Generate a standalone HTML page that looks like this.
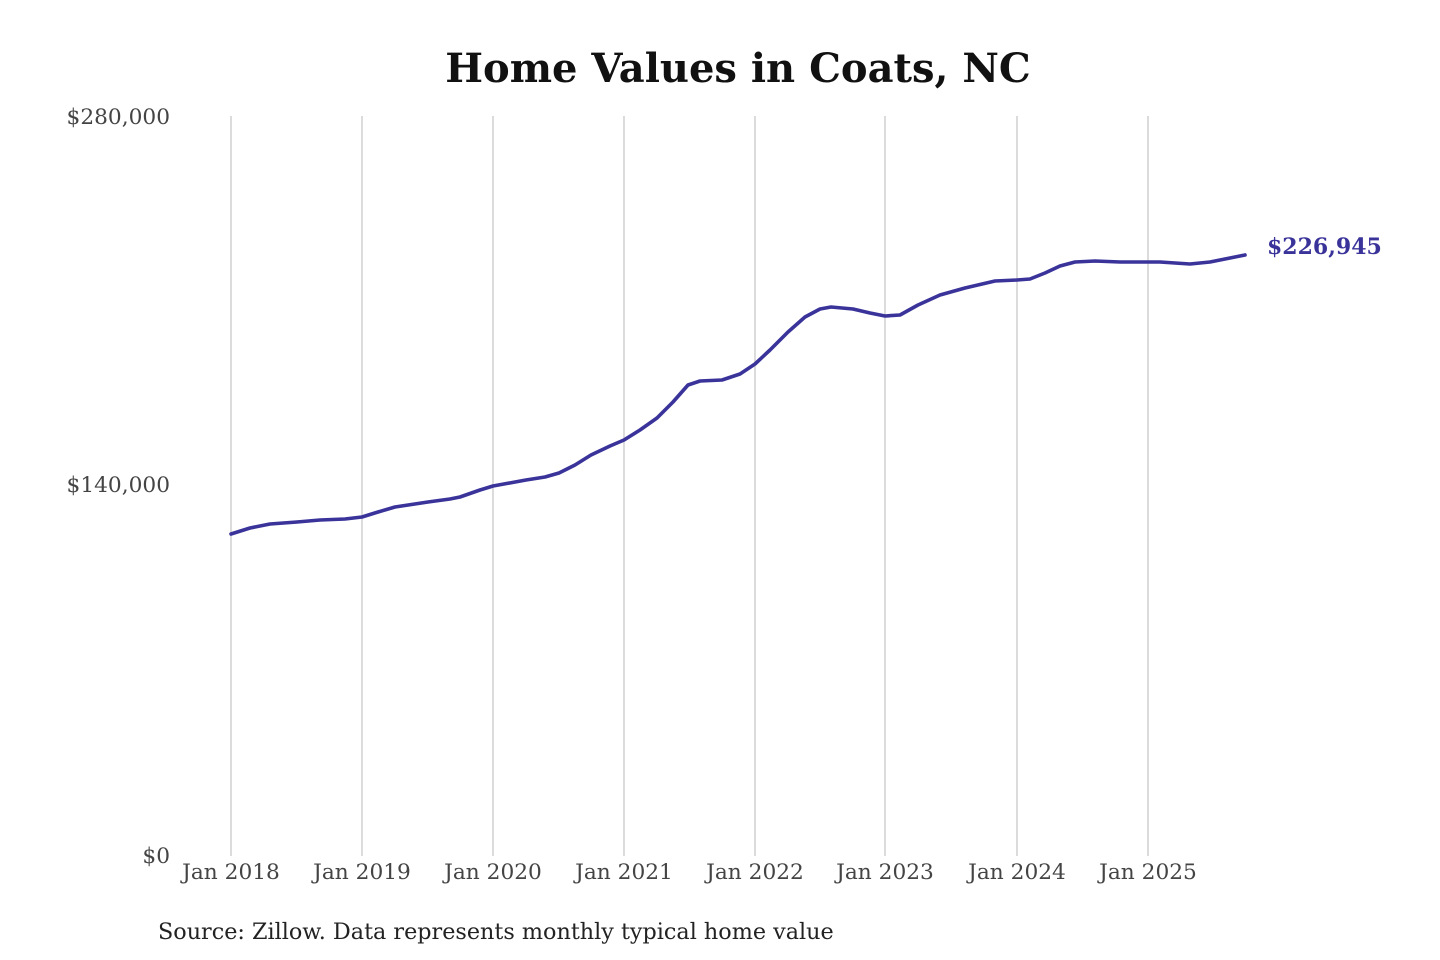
<!DOCTYPE html>
<html><head><meta charset="utf-8"><style>
html,body{margin:0;padding:0;background:#fff;}
svg{display:block;}
</style></head><body>
<svg width="1440" height="960" xmlns="http://www.w3.org/2000/svg" font-family="DejaVu Serif, Liberation Serif, serif">
<rect width="1440" height="960" fill="#fff"/>
<text x="738" y="82" text-anchor="middle" font-size="40" font-weight="bold" fill="#111">Home Values in Coats, NC</text>
<g stroke="#c8c8c8" stroke-width="1.3">
<line x1="231" y1="116" x2="231" y2="856"/>
<line x1="362" y1="116" x2="362" y2="856"/>
<line x1="493" y1="116" x2="493" y2="856"/>
<line x1="624" y1="116" x2="624" y2="856"/>
<line x1="755" y1="116" x2="755" y2="856"/>
<line x1="885" y1="116" x2="885" y2="856"/>
<line x1="1017" y1="116" x2="1017" y2="856"/>
<line x1="1148" y1="116" x2="1148" y2="856"/>
</g>
<g font-size="21.7" fill="#444" text-anchor="end">
<text x="170" y="124">$280,000</text>
<text x="170" y="492">$140,000</text>
<text x="170" y="863">$0</text>
</g>
<g font-size="21.7" fill="#444" text-anchor="middle">
<text x="231" y="879">Jan 2018</text>
<text x="362" y="879">Jan 2019</text>
<text x="493" y="879">Jan 2020</text>
<text x="624" y="879">Jan 2021</text>
<text x="755" y="879">Jan 2022</text>
<text x="885" y="879">Jan 2023</text>
<text x="1017" y="879">Jan 2024</text>
<text x="1148" y="879">Jan 2025</text>
</g>
<polyline fill="none" stroke="#3a339a" stroke-width="3.6" stroke-linejoin="round" stroke-linecap="round"
points="231,534 250,528 270,524 297,522 320,520 345,519 362,517 378,512 395,507 428,502 450,499 460,497 480,490 493,486 526,480 545,477 559,473 575,465 591,455 610,446 624,440 640,430 657,418 673,402 688,385 700,381 722,380 740,374 755,364 770,350 788,332 805,317 820,309 831,307 853,309 870,313 885,316 900,315 918,305 940,295 965,288 995,281 1017,280 1030,279 1045,273 1060,266 1075,262 1095,261 1120,262 1148,262 1160,262 1175,263 1190,264 1210,262 1230,258 1245,255"/>
<text x="1267" y="254" font-size="22" font-weight="bold" fill="#3a339a">$226,945</text>
<text x="158" y="939" font-size="22.3" fill="#222">Source: Zillow. Data represents monthly typical home value</text>
</svg>
</body></html>
